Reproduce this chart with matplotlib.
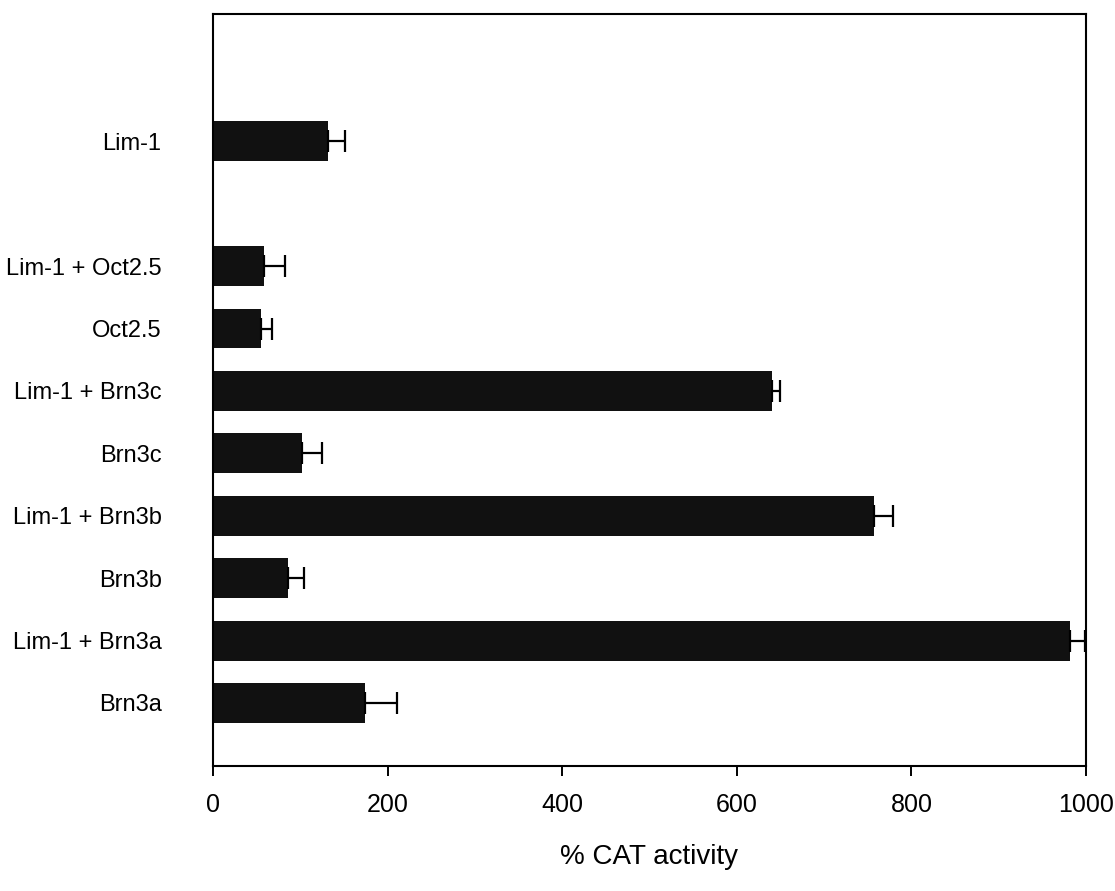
import matplotlib
matplotlib.use("Agg")
import matplotlib.pyplot as plt
import numpy as np

plt.rcParams['font.family'] = ['Liberation Sans', 'DejaVu Sans']

# Data (bottom to top)
categories = ["Brn3a", "Lim-1 + Brn3a", "Brn3b", "Lim-1 + Brn3b", "Brn3c",
              "Lim-1 + Brn3c", "Oct2.5", "Lim-1 + Oct2.5", "Lim-1"]
values = [174, 982, 86, 757, 102, 640, 55, 58, 132]
errors = [37, 17, 18, 22, 23, 10, 13, 24, 19]
xticks = [0, 200, 400, 600, 800, 1000]
xlabel = "% CAT activity"

# Layout: the "Lim-1" bar sits apart, one slot above the rest
positions = [0, 1, 2, 3, 4, 5, 6, 7, 9]

fig = plt.figure(figsize=(11.15, 8.91), dpi=100)
ax = fig.add_axes([0.191, 0.1403, 0.783, 0.844])

ax.barh(positions, values, height=0.64, color="#111111", edgecolor="none", zorder=2)
ax.errorbar(values, positions, xerr=[np.zeros(len(errors)), errors],
            fmt="none", ecolor="black", elinewidth=1.6, capsize=8, capthick=1.6, zorder=3)

ax.set_xlim(0, 1000)
ax.set_ylim(-1.01, 11.04)
ax.set_xticks(xticks)
ax.set_xticklabels([str(t) for t in xticks], fontsize=18)
ax.set_yticks(positions)
ax.set_yticklabels(categories, fontsize=17)
ax.tick_params(axis="y", length=0, pad=37)
ax.tick_params(axis="x", length=7.2, width=1.4, pad=12, direction="out")
ax.set_xlabel(xlabel, fontsize=20, labelpad=20)

for s in ax.spines.values():
    s.set_linewidth(1.5)
    s.set_color("black")

fig.savefig("out.png", dpi=100, facecolor="white")
